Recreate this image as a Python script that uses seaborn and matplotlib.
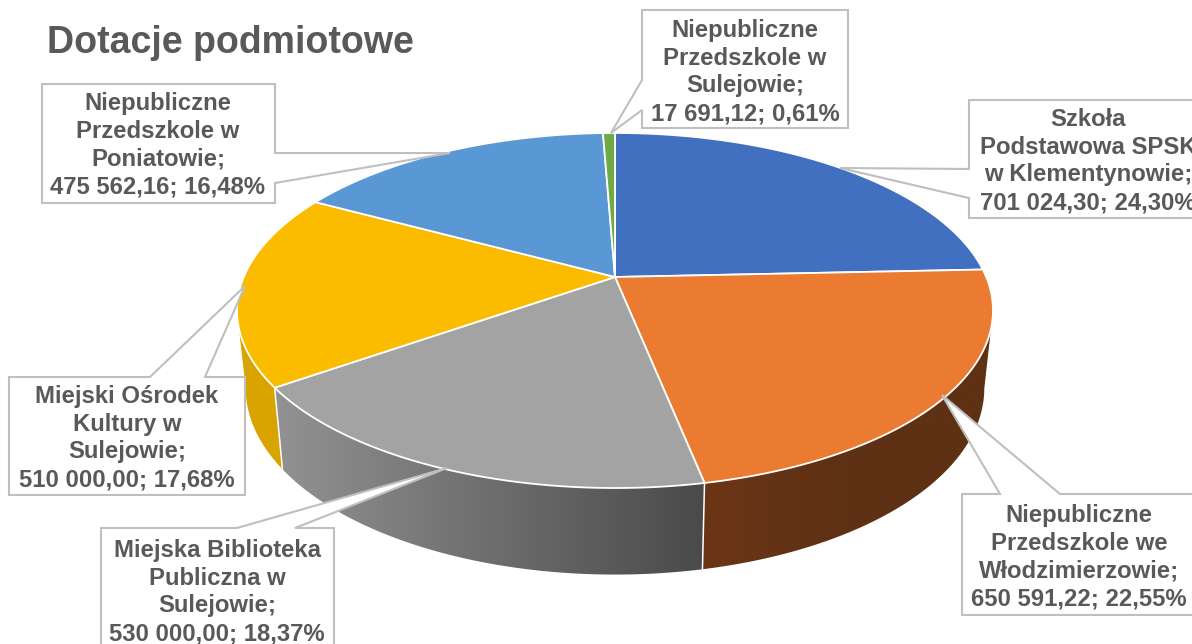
import numpy as np
import seaborn as sns
import matplotlib
matplotlib.use('Agg')
import matplotlib.pyplot as plt
from matplotlib.colors import LinearSegmentedColormap
from matplotlib.patches import Polygon
from matplotlib.path import Path
from matplotlib.transforms import Affine2D, Transform

sns.set_theme(style='white')
plt.rcParams['font.family'] = ['Liberation Sans', 'DejaVu Sans']

title = 'Dotacje podmiotowe'
names = ['Szkoła\nPodstawowa SPSK\nw Klementynowie;',
         'Niepubliczne\nPrzedszkole we\nWłodzimierzowie;',
         'Miejska Biblioteka\nPubliczna w\nSulejowie;',
         'Miejski Ośrodek\nKultury w\nSulejowie;',
         'Niepubliczne\nPrzedszkole w\nPoniatowie;',
         'Niepubliczne\nPrzedszkole w\nSulejowie;']
values = [701024.30, 650591.22, 530000.00, 510000.00, 475562.16, 17691.12]
top_colors = ['#4270C0', '#EB7B30', '#A3A3A3', '#FBBC00', '#5998D4', '#6EAA45']
wall_colors = [['#2F5597'], ['#6B3616', '#5E3014', '#5E3014'],
               ['#929292', '#4A4A4A'], ['#D9A400'], ['#3F7CB5'], ['#4E7A30']]

# label box centre and callout outline, in pixels of the picture
label_pos = [(1088, 161), (1079, 557), (217, 592), (127, 438), (158, 145), (745, 72)]
callouts = [
    [(969, 100), (1215, 100), (1215, 218), (969, 218), (969, 198), (840, 168), (969, 169)],
    [(962, 494), (1000, 494), (942, 395), (1060, 494), (1196, 494), (1196, 615), (962, 615)],
    [(101, 528), (237, 528), (447, 468), (295, 528), (334, 528), (334, 650), (101, 650)],
    [(9, 377), (150, 377), (245, 286), (205, 377), (245, 377), (245, 495), (9, 495)],
    [(42, 84), (275, 84), (275, 153), (450, 153), (275, 183), (275, 203), (42, 203)],
    [(642, 10), (848, 10), (848, 128), (642, 128), (642, 110), (611, 133), (642, 80)],
]

# pie centre, perspective and depth of the 3d disc
cx, cy = 615, 277
rx, ry, persp = 371.2, 171.2, 0.1887


def project(xy, depth=False):
    x, y = xy[:, 0], xy[:, 1]
    px = rx * x / (1 + persp * y)
    py = -ry * y / (1 + persp * y)
    if depth:
        px = px * 0.977
        py = py * 1.05 + 76
    return np.column_stack([cx + px, cy + py])


class Tilt(Transform):
    input_dims = output_dims = 2

    def transform_non_affine(self, xy):
        return project(np.asarray(xy, float))

    def transform_path_non_affine(self, path):
        # flatten the arc first, a curve does not survive the perspective
        polys = path.to_polygons(Affine2D().scale(2000), closed_only=True)
        return Path(self.transform_non_affine(polys[0] / 2000), closed=True)


def label_number(v):
    s = f'{v:,.2f}'.replace(',', ' ').replace('.', ',')
    return s


fig = plt.figure(figsize=(11.92, 6.44), dpi=100)
ax = fig.add_axes([0, 0, 1, 1])

wedges, _ = ax.pie(values, colors=sns.color_palette(top_colors), startangle=90,
                   counterclock=False, radius=1,
                   wedgeprops={'edgecolor': 'white', 'linewidth': 1.3, 'zorder': 3})
for w in wedges:
    w.set_transform(Tilt() + ax.transData)

# side wall of the disc, only between the left and right silhouette
shares = np.array(values) / sum(values)
edges = np.concatenate([[0], np.cumsum(shares)]) * 2 * np.pi
grid = np.linspace(0, 2 * np.pi, 1441)
rim = project(np.column_stack([np.sin(grid), np.cos(grid)]))
t_right, t_left = grid[rim[:, 0].argmax()], grid[rim[:, 0].argmin()]

for a, b, cols in zip(edges[:-1], edges[1:], wall_colors):
    t1, t2 = max(a, t_right), min(b, t_left)
    if t1 >= t2:
        continue
    t = np.linspace(t1, t2, 200)
    unit = np.column_stack([np.sin(t), np.cos(t)])
    poly = np.vstack([project(unit), project(unit, depth=True)[::-1]])
    left, right = poly[:, 0].min(), poly[:, 0].max()
    low, high = poly[:, 1].min(), poly[:, 1].max()
    cmap = LinearSegmentedColormap.from_list('wall', cols if len(cols) > 1 else cols * 2)
    im = ax.imshow(np.linspace(0, 1, 256)[None, :], cmap=cmap, aspect='auto',
                   extent=(left, right, high, low), zorder=1)
    clip = Polygon(poly, closed=True, transform=ax.transData, fill=False, edgecolor='none')
    ax.add_patch(clip)
    im.set_clip_path(clip)
    if b <= t_left:
        end = np.array([[np.sin(b), np.cos(b)]])
        line = np.vstack([project(end), project(end, depth=True)])
        ax.plot(line[:, 0], line[:, 1], color='white', lw=1.1, zorder=2)

ax.set_xlim(0, 1192)
ax.set_ylim(644, 0)
ax.set_aspect('auto')
ax.axis('off')

for name, v, share, pos, shape in zip(names, values, shares, label_pos, callouts):
    ax.add_patch(Polygon(shape, closed=True, facecolor='white', edgecolor='#BFBFBF',
                         lw=1.5, zorder=5, clip_on=False))
    txt = f'{name}\n{label_number(v)}; {share * 100:.2f}%'.replace('.', ',')
    ax.text(pos[0], pos[1], txt, ha='center', va='center', ma='center', fontsize=17.2,
            fontweight='bold', color='#595959', linespacing=1.27, zorder=6)

ax.text(47, 43, title, ha='left', va='center', fontsize=27, fontweight='bold',
        color='#595959', zorder=6)

fig.savefig('out.png', dpi=100)
